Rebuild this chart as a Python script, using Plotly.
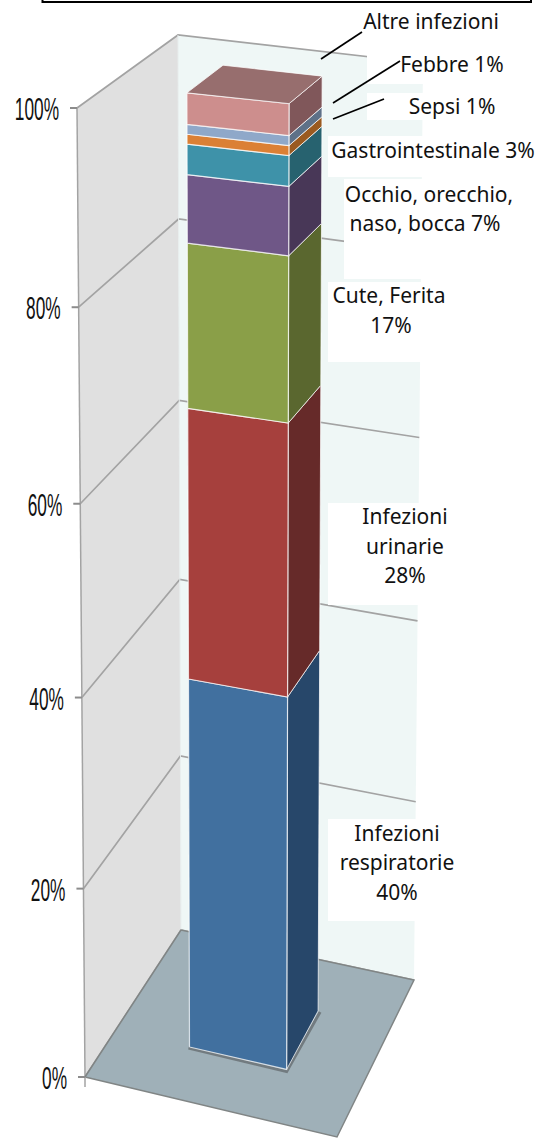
import plotly.graph_objects as go

categories = ["Infezioni respiratorie", "Infezioni urinarie", "Cute, Ferita",
              "Occhio, orecchio, naso, bocca", "Gastrointestinale", "Sepsi", "Febbre", "Altre infezioni"]
values = [39.4, 28.3, 17.0, 7.0, 3.1, 1.0, 1.0, 3.2]
front_colors = ["#41709F", "#A6403D", "#8A9F48", "#6F5787", "#3E92A9", "#DB8035", "#8FA8C9", "#CD8E8D"]
side_colors = ["#27476A", "#662A29", "#5A672F", "#483757", "#27626F", "#9A5A20", "#5E7188", "#80575A"]
top_color = "#976E6E"
tick_values = [0, 20, 40, 60, 80, 100]
tick_labels = ["0%", "20%", "40%", "60%", "80%", "100%"]
labels = [("Altre infezioni", 431, 24), ("Febbre 1%", 452, 67), ("Sepsi 1%", 452, 109),
          ("Gastrointestinale 3%", 433, 153), ("Occhio, orecchio,", 429, 197), ("naso, bocca 7%", 425, 226),
          ("Cute, Ferita", 389, 298), ("17%", 391, 328), ("Infezioni", 405, 519), ("urinarie", 405, 549),
          ("28%", 405, 578), ("Infezioni", 397, 836), ("respiratorie", 397, 865), ("40%", 397, 895)]
leaders = [((321, 59), (362, 32)), ((333, 103), (400, 61)), ((333, 119), (384, 99))]

# Box corners of the chart's 3D frame (u left-right, v front-back, h bottom-top)
C = {(0, 0, 0): (85, 1077), (0, 0, 1): (77, 108), (0, 1, 0): (181, 930), (0, 1, 1): (178, 35),
     (1, 1, 0): (414, 980), (1, 1, 1): (423, 63), (1, 0, 0): (337, 1137), (1, 0, 1): (342, 135)}
U0, U1, V0, V1 = 0.30, 0.695, 0.32, 0.70


def P(u, v, val):
    t = val / 100
    h = t - 0.035 * t * (1 - t)
    xy = [0, 0]
    for (a, b, c), p in C.items():
        w = (u if a else 1 - u) * (v if b else 1 - v) * (h if c else 1 - h)
        xy[0] += w * p[0]
        xy[1] += w * p[1]
    return xy


fig = go.Figure()


def poly(pts, fill=None, line=None, width=1, close=True):
    pts = list(pts)
    if close:
        pts = pts + [pts[0]]
    fig.add_trace(go.Scatter(
        x=[p[0] for p in pts], y=[p[1] for p in pts], mode="lines",
        fill="toself" if fill else None, fillcolor=fill,
        line=dict(color=line or "rgba(0,0,0,0)", width=width if line else 0),
        hoverinfo="skip", showlegend=False))


WALL_EDGE = "#A3A3A3"
# Walls and floor
poly([P(0, 0, 0), P(0, 1, 0), P(0, 1, 100), P(0, 0, 100)], "#E0E0E0")
poly([P(0, 1, 0), P(1, 1, 0), P(1, 1, 100), P(0, 1, 100)], "#EFF7F6")
for tv in tick_values:
    poly([P(0, 0, tv), P(0, 1, tv), P(1, 1, tv)], None, WALL_EDGE, 1.7, close=False)
poly([P(0, 0, 0), P(0, 0, 100)], None, WALL_EDGE, 1.5, close=False)
poly([P(0, 1, 0), P(0, 1, 100)], None, "#E8EEEE", 1, close=False)

# White label backgrounds covering the back wall
patches = [(367, 40, 430, 84), (367, 93, 430, 120), (328, 136, 430, 177), (344, 179, 430, 279),
           (328, 282, 430, 362), (328, 503, 430, 605), (328, 819, 430, 921)]
for x0, y0, x1, y1 in patches:
    poly([(x0, y0), (x1, y0), (x1, y1), (x0, y1)], "#FFFFFF")

poly([P(0, 0, 0), P(0, 1, 0), P(1, 1, 0), P(1, 0, 0)], "#9FB0B8", "#808585", 1.5)
poly([P(0, 0, 0), (P(0, 0, 0)[0], P(0, 0, 0)[1] + 10)], None, WALL_EDGE, 1.5, close=False)
for tv in tick_values:
    p = P(0, 0, tv)
    poly([(p[0] - 7, p[1]), p], None, "#8C8C8C", 2, close=False)

# Bar base shadow
poly([(P(U0, V0, 0)[0] - 1, P(U0, V0, 0)[1] + 1), (P(U1, V0, 0)[0], P(U1, V0, 0)[1] + 2),
      (P(U1, V1, 0)[0] + 2, P(U1, V1, 0)[1] + 1)], None, "rgba(60,60,60,0.45)", 3, close=False)

# Stacked bar
EDGE = "rgba(255,255,255,0.72)"
base = 0
for val, fc, sc in zip(values, front_colors, side_colors):
    top = base + val
    poly([P(U1, V0, base), P(U1, V1, base), P(U1, V1, top), P(U1, V0, top)], sc, EDGE, 1)
    poly([P(U0, V0, base), P(U1, V0, base), P(U1, V0, top), P(U0, V0, top)], fc, EDGE, 1.2)
    base = top
poly([P(U0, V0, base), P(U1, V0, base), P(U1, V1, base), P(U0, V1, base)], top_color, EDGE, 1)

# Leader lines
for a, b in leaders:
    poly([a, b], None, "#000000", 1.7, close=False)

# Top box remnant
poly([(42.5, 0), (42.5, 2), (531, 2), (531, 0)], None, "#000000", 2, close=False)

# Text
fig.add_trace(go.Scatter(
    x=[P(0, 0, tv)[0] - 18 for tv in tick_values], y=[P(0, 0, tv)[1] + 4 for tv in tick_values],
    text=tick_labels, mode="text", textposition="middle left",
    textfont=dict(family="Liberation Sans", size=32, color="#111111"),
    hoverinfo="skip", showlegend=False))
fig.add_trace(go.Scatter(
    x=[l[1] for l in labels], y=[l[2] for l in labels], text=[l[0] for l in labels],
    mode="text", textposition="middle center",
    textfont=dict(family="Noto Sans", size=21, color="#111111"),
    hoverinfo="skip", showlegend=False))

fig.update_layout(
    width=545, height=1139, margin=dict(l=0, r=0, t=0, b=0),
    paper_bgcolor="white", plot_bgcolor="white", showlegend=False,
    xaxis=dict(range=[0, 545], visible=False, fixedrange=True),
    yaxis=dict(range=[1139, 0], visible=False, fixedrange=True),
)
post = """
document.body.style.margin='0';document.body.style.overflow='hidden';
document.querySelectorAll('.textpoint text').forEach(function(t){
  if (parseFloat(t.getAttribute('x')) < 100) {
    t.setAttribute('lengthAdjust','spacingAndGlyphs');
    t.setAttribute('textLength', t.getComputedTextLength()*0.54);
  }
});
"""
fig.write_html("out.html", post_script=post, config={"displayModeBar": False})
